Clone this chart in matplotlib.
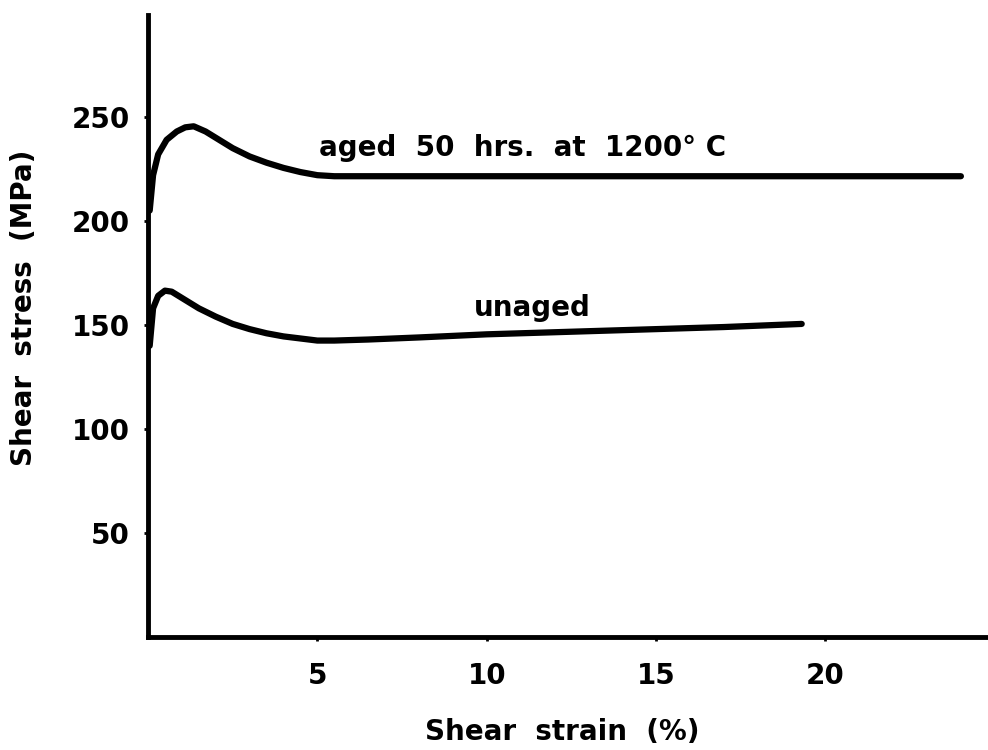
import matplotlib
matplotlib.use("Agg")
import matplotlib.pyplot as plt
import numpy as np

# Data
aged_strain = [0.05, 0.15, 0.3, 0.55, 0.85, 1.1, 1.35, 1.7, 2.1, 2.5, 3.0, 3.5, 4.0, 4.5, 5.0, 5.5, 6.5, 8.0, 10.0, 14.0, 18.0, 22.0, 24.0]
aged_stress = [205, 222, 232, 239, 243, 245, 245.5, 243, 239, 235, 231, 228, 225.5, 223.5, 222, 221.5, 221.5, 221.5, 221.5, 221.5, 221.5, 221.5, 221.5]

unaged_strain = [0.05, 0.15, 0.3, 0.5, 0.7, 1.0, 1.5, 2.0, 2.5, 3.0, 3.5, 4.0, 4.5, 5.0, 5.5, 6.5, 8.0, 10.0, 12.0, 15.0, 17.0, 19.3]
unaged_stress = [140, 158, 164, 166.5, 166, 163, 158, 154, 150.5, 148, 146, 144.5, 143.5, 142.5, 142.5, 143, 144, 145.5, 146.5, 148, 149, 150.5]

x_ticks = [5, 10, 15, 20]
y_ticks = [50, 100, 150, 200, 250]

label_aged = "aged  50  hrs.  at  1200° C"
label_unaged = "unaged"

plt.rcParams['font.family'] = ['DejaVu Sans']

fig = plt.figure(figsize=(9.88, 7.5), dpi=100)
ax = fig.add_axes([148/988, 113/750, 1 - 148/988, (637-15)/750])

ax.plot(aged_strain, aged_stress, color='black', lw=4.5, solid_capstyle='round')
ax.plot(unaged_strain, unaged_stress, color='black', lw=4.5, solid_capstyle='round')

ax.set_xlim(0, 24.8)
ax.set_ylim(0, 299)

for s in ['top', 'right']:
    ax.spines[s].set_visible(False)
for s in ['left', 'bottom']:
    ax.spines[s].set_linewidth(3.5)

FS = 20
ax.set_xticks(x_ticks)
ax.set_yticks(y_ticks)
ax.set_xticklabels([str(v) for v in x_ticks], fontsize=FS, fontweight='bold')
ax.set_yticklabels([str(v) for v in y_ticks], fontsize=FS, fontweight='bold')
ax.tick_params(axis='x', length=3, width=2, pad=15)
ax.tick_params(axis='y', length=3, width=2, pad=10)

ax.set_xlabel("Shear  strain  (%)", fontsize=FS, fontweight='bold', va='center')
ax.set_ylabel("Shear  stress  (MPa)", fontsize=FS, fontweight='bold', va='center')
ax.xaxis.set_label_coords(0.493, -0.1527)
ax.yaxis.set_label_coords(-0.1476, 0.529)

ax.text(11.05, 235, label_aged, fontsize=FS, fontweight='bold', ha='center', va='center')
ax.text(11.35, 158, label_unaged, fontsize=FS, fontweight='bold', ha='center', va='center')

fig.savefig("out.png", dpi=100)
